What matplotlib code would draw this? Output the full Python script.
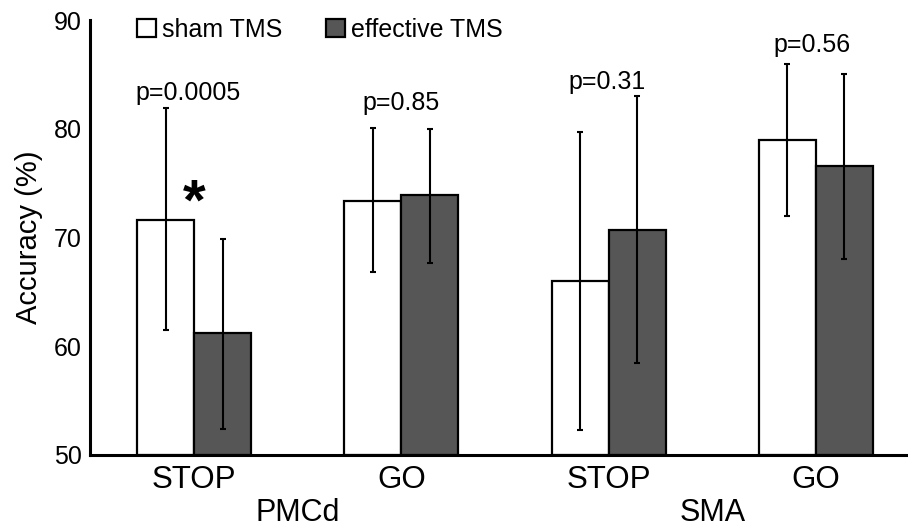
import matplotlib
matplotlib.use("Agg")
import matplotlib.pyplot as plt
import matplotlib.transforms as mtransforms
from matplotlib.patches import Patch
import numpy as np

plt.rcParams['font.family'] = ['Liberation Sans', 'DejaVu Sans']

conditions = ['STOP', 'GO', 'STOP', 'GO']
regions = ['PMCd', 'SMA']
series_names = ['sham TMS', 'effective TMS']

sham_mean = [71.6, 73.4, 66.0, 79.0]
sham_upper = [81.9, 80.1, 79.7, 86.0]
sham_lower = [61.5, 66.8, 52.3, 72.0]

eff_mean = [61.2, 73.9, 70.7, 76.6]
eff_upper = [69.9, 80.0, 83.0, 85.0]
eff_lower = [52.4, 67.7, 58.5, 68.0]

p_labels = ['p=0.0005', 'p=0.85', 'p=0.31', 'p=0.56']
p_label_y = [83.3, 82.4, 84.3, 87.7]
p_label_dx = [-0.03, 0.0, -0.01, -0.02]
star_y = 73.0

W, H = 908, 530
fig = plt.figure(figsize=(W / 100, H / 100), dpi=100)
ax = fig.add_axes([90 / W, 1 - 455 / H, (W - 90) / W, (455 - 20) / H])

x = np.arange(len(conditions))
bw = 0.275
sm = np.array(sham_mean); em = np.array(eff_mean)
s_err = [sm - np.array(sham_lower), np.array(sham_upper) - sm]
e_err = [em - np.array(eff_lower), np.array(eff_upper) - em]

ax.bar(x - bw / 2, sm - 50, bw, bottom=50, color='white', edgecolor='black', linewidth=1.6, zorder=2)
ax.bar(x + bw / 2, em - 50, bw, bottom=50, color='#565656', edgecolor='black', linewidth=1.6, zorder=2)
ax.errorbar(x - bw / 2, sm, yerr=s_err, fmt='none', ecolor='black', elinewidth=1.5, capsize=2.2, capthick=1.5, zorder=3)
ax.errorbar(x + bw / 2, em, yerr=e_err, fmt='none', ecolor='black', elinewidth=1.5, capsize=2.2, capthick=1.5, zorder=3)

ax.set_ylim(50, 90)
ax.set_xlim(-0.502, 3.444)
ax.set_yticks([50, 60, 70, 80, 90])
ax.tick_params(axis='y', length=0, pad=6, labelsize=18)
ax.set_xticks(x)
ax.set_xticklabels(conditions, fontsize=22.5)
ax.tick_params(axis='x', length=0, pad=7)

for s in ['top', 'right']:
    ax.spines[s].set_visible(False)
ax.spines['left'].set_linewidth(2.2)
ax.spines['bottom'].set_linewidth(2.2)

ax.set_ylabel('Accuracy (%)', fontsize=21, labelpad=8)

for i, (lab, yy, dx) in enumerate(zip(p_labels, p_label_y, p_label_dx)):
    ax.text(i + dx, yy, lab, ha='center', va='center', fontsize=18)

ax.text(0, star_y, '*', ha='center', va='center', fontsize=42, fontweight='bold')

trans = mtransforms.blended_transform_factory(ax.transData, ax.transAxes)
for j, reg in enumerate(regions):
    ax.text(2 * j + 0.5, -0.152, reg, transform=trans, ha='center', va='baseline', fontsize=22)

handles = [Patch(facecolor='white', edgecolor='black', linewidth=1.6),
           Patch(facecolor='#565656', edgecolor='black', linewidth=1.6)]
fig.legend(handles, series_names, loc='upper left', bbox_to_anchor=(137 / W, 1 - 18 / H),
           frameon=False, ncol=2, fontsize=18, handlelength=0.75, handleheight=0.75,
           handletextpad=0.25, columnspacing=1.75, borderpad=0, borderaxespad=0)

fig.savefig('out.png', dpi=100)
